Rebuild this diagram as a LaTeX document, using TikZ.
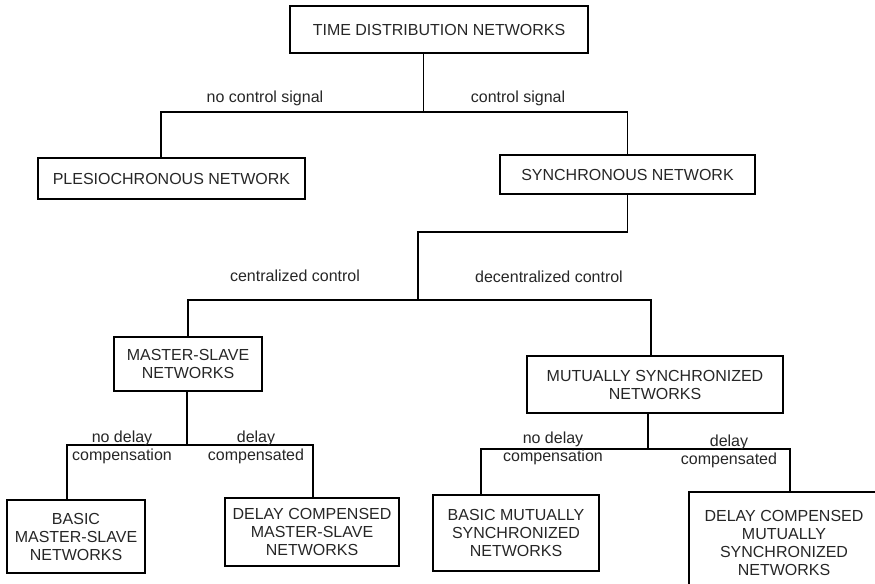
\documentclass[tikz,border=0pt]{standalone}
\usepackage{fontspec}
\setmainfont{Liberation Sans}
\usetikzlibrary{positioning}

\tikzset{
  netbox/.style 2 args={draw, line width=0.9pt, align=center, inner sep=0pt,
    minimum width=#1*0.75pt, minimum height=#2*0.75pt},
  branch/.style={align=center, inner sep=0pt},
}

\begin{document}
\begin{tikzpicture}[x=0.75pt, y=-0.75pt, line width=0.9pt,
    font=\fontsize{12}{13.5}\selectfont, text=black!85]
  \clip (0,0) rectangle (875,583);

  % boxes
  \node[netbox={298}{47}] (tdn) at (439,29.5) {TIME DISTRIBUTION NETWORKS};
  \node[netbox={267}{41}] (plesio) at (171.5,178.5) {PLESIOCHRONOUS NETWORK};
  \node[netbox={255}{39}] (sync) at (627.5,174.5) {SYNCHRONOUS NETWORK};
  \node[netbox={148}{54}] (ms) at (188,364) {MASTER-SLAVE\\NETWORKS};
  \node[netbox={256}{57}] (mut) at (655,384.5) {MUTUALLY SYNCHRONIZED\\NETWORKS};
  \node[netbox={138}{73}] (bms) at (76,536.5) {BASIC\\MASTER-SLAVE\\NETWORKS};
  \node[netbox={174}{68}] (dcms) at (312,532) {DELAY COMPENSED\\MASTER-SLAVE\\NETWORKS};
  \node[netbox={166}{76}] (bmut) at (516,533) {BASIC MUTUALLY\\SYNCHRONIZED\\NETWORKS};
  \node[netbox={190}{102}] (dcmut) at (784,543) {DELAY COMPENSED\\MUTUALLY\\SYNCHRONIZED\\NETWORKS};

  % branch points
  \coordinate (c1) at (423.5,112);
  \coordinate (c1l) at (161,112);
  \coordinate (c1r) at (627.5,112);
  \coordinate (c2a) at (418,232);
  \coordinate (c2) at (418,300);
  \coordinate (c2r) at (651,300);
  \coordinate (c3) at (187,445);
  \coordinate (c3l) at (67,445);
  \coordinate (c3r) at (313,445);
  \coordinate (c4) at (648,449);
  \coordinate (c4l) at (481,449);
  \coordinate (c4r) at (790,449);

  % connectors
  \draw (tdn.south -| c1) -- (c1);
  \draw (plesio.north -| c1l) -- (c1l) -- (c1r) -- (sync.north);
  \draw (sync.south) |- (c2a) -- (c2);
  \draw (ms.north) |- (c2r) -- (mut.north -| c2r);
  \draw (ms.south -| c3) -- (c3);
  \draw (bms.north -| c3l) -- (c3l) -- (c3r) -- (dcms.north -| c3r);
  \draw (mut.south -| c4) -- (c4);
  \draw (bmut.north -| c4l) -- (c4l) -- (c4r) -- (dcmut.north -| c4r);

  % labels
  \node[branch] (l1) at (265,98) {no control signal};
  \node[branch] (l2) at (518,98) {control signal};
  \node[branch] (l3) at (295,276) {centralized control};
  \node[branch] (l4) at (549,277) {decentralized control};
  \node[branch] (l5) at (122,447) {no delay\\compensation};
  \node[branch] (l6) at (256,447) {delay\\compensated};
  \node[branch] (l7) at (553,448) {no delay\\compensation};
  \node[branch] (l8) at (729,451) {delay\\compensated};
\end{tikzpicture}
\end{document}
